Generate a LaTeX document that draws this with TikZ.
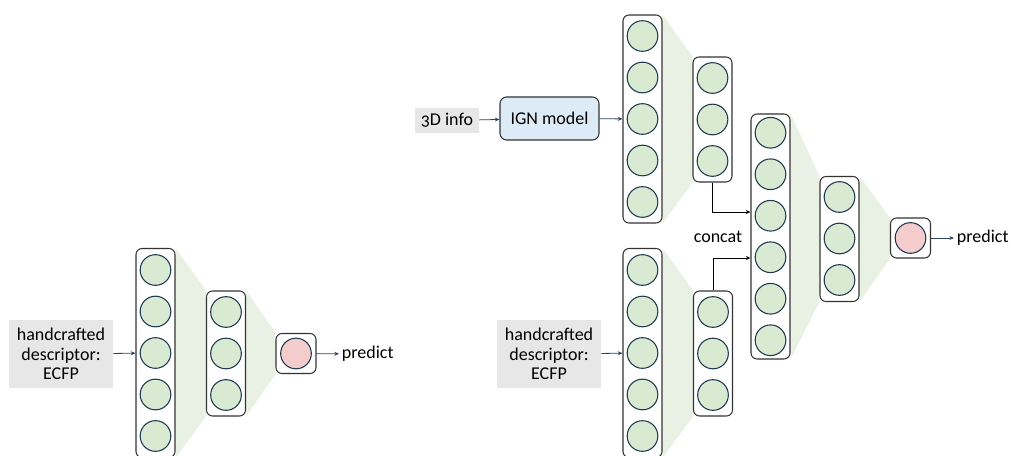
\documentclass[tikz,border=0pt]{standalone}
\usepackage{fontspec}
\setmainfont{Carlito}[Numbers=OldStyle]
\usetikzlibrary{arrows.meta,backgrounds,calc}

\definecolor{cellgreen}{RGB}{217,234,211}
\definecolor{cellpink}{RGB}{244,204,204}
\definecolor{cellline}{RGB}{31,56,80}
\definecolor{shadegreen}{RGB}{233,241,228}
\definecolor{infogray}{RGB}{231,231,231}
\definecolor{ignblue}{RGB}{221,235,247}
\definecolor{arrowblue}{RGB}{47,69,95}

\tikzset{
  neuron/.style={circle, draw=cellline, fill=cellgreen, line width=0.8pt, minimum size=23pt, inner sep=0pt},
  outneuron/.style={neuron, fill=cellpink},
  layer/.style={draw=black!80, rounded corners=4.5pt, line width=0.8pt, minimum width=29.25pt, inner sep=0pt},
  infobox/.style={fill=infogray, align=center, inner sep=0pt},
  feed/.style={draw=arrowblue, line width=0.6pt, -{Stealth[length=3.5pt,width=3pt]}},
  concatline/.style={draw=black, line width=0.6pt, -{Stealth[length=3.5pt,width=3pt]}},
  fan/.style={fill=shadegreen}
}

\begin{document}
\begin{tikzpicture}[x=0.75pt, y=-0.75pt, font=\fontsize{13.5pt}{14.6pt}\selectfont]
\useasboundingbox (0,0) rectangle (1011,456);
\clip (0,0) rectangle (1011,456);

% left: descriptor only
\node[infobox, minimum width=78pt, minimum height=51pt] (descL) at (61,354) {handcrafted\\descriptor:\\ECFP};
\node[layer, minimum height=156.75pt] (h1) at (155.5,353) {};
\foreach \k [count=\n] in {-2,...,2}
  \node[neuron] (h1-\n) at (155.5,{353+41.5*\k}) {};
\node[layer, minimum height=93.75pt] (h2) at (226,353.5) {};
\foreach \k [count=\n] in {-1,0,1}
  \node[neuron] (h2-\n) at (226,{353.5+41.5*\k}) {};
\node[layer, minimum width=30pt, minimum height=30pt] (h3) at (296,353.5) {};
\node[outneuron] (h3-1) at (296,353.5) {};
\node[anchor=west, inner sep=2pt] (predL) at (339,354) {predict};

\draw[feed] (descL) -- (h1);
\draw[feed] (h3) -- (predL);

% right: IGN + descriptor
\node[infobox, minimum width=48pt, minimum height=18.75pt] (info) at (447,120.5) {3D info};
\node[draw=black!80, fill=ignblue, rounded corners=5pt, line width=0.8pt, minimum width=74.25pt, minimum height=32.25pt] (ign) at (549.5,118.5) {IGN model};
\node[infobox, minimum width=78pt, minimum height=51pt] (descR) at (549,354) {handcrafted\\descriptor:\\ECFP};

\node[layer, minimum height=156pt] (a1) at (642.5,119) {};
\foreach \k [count=\n] in {-2,...,2}
  \node[neuron] (a1-\n) at (642.5,{119+41.5*\k}) {};
\node[layer, minimum height=93.75pt] (a2) at (712.5,119.5) {};
\foreach \k [count=\n] in {-1,0,1}
  \node[neuron] (a2-\n) at (712.5,{119.5+41.5*\k}) {};

\node[layer, minimum height=156.75pt] (b1) at (642.5,353) {};
\foreach \k [count=\n] in {-2,...,2}
  \node[neuron] (b1-\n) at (642.5,{353+41.5*\k}) {};
\node[layer, minimum height=93.75pt] (b2) at (713,353.5) {};
\foreach \k [count=\n] in {-1,0,1}
  \node[neuron] (b2-\n) at (713,{353.5+41.5*\k}) {};

\node[layer, minimum height=183.75pt] (c1) at (770.5,236.5) {};
\foreach \k [count=\n] in {-2.5,-1.5,...,2.5}
  \node[neuron] (c1-\n) at (770.5,{236.5+41.5*\k}) {};
\node[layer, minimum height=93.75pt] (c2) at (839.5,239) {};
\foreach \k [count=\n] in {-1,0,1}
  \node[neuron] (c2-\n) at (839.5,{238.5+41.5*\k}) {};
\node[layer, minimum width=30pt, minimum height=30pt] (c3) at (910.5,238) {};
\node[outneuron] (c3-1) at (910.5,238) {};
\node[anchor=west, inner sep=2pt] (predR) at (954,238) {predict};

\node (concat) at (718,237) {concat};

\draw[feed] (info) -- (ign);
\draw[feed] (ign) -- (a1);
\draw[feed] (descR) -- (b1);
\draw[feed] (c3) -- (predR);
\draw[concatline] (a2.south) |- ($(c1.west)+(0,-24.5)$);
\draw[concatline] (b2.north) |- ($(c1.west)+(0,21.5)$);

% fans between layers
\begin{scope}[on background layer]
\fill[fan] (h1.north east) -- (h2.north west) -- (h2.south west) -- (h1.south east) -- cycle;
\fill[fan] (h2.north east) -- (h3.north west) -- (h3.south west) -- (h2.south east) -- cycle;
\fill[fan] (a1.north east) -- (a2.north west) -- (a2.south west) -- (a1.south east) -- cycle;
\fill[fan] (b1.north east) -- (b2.north west) -- (b2.south west) -- (b1.south east) -- cycle;
\fill[fan] (c1.north east) -- (c2.north west) -- (c2.south west) -- (c1.south east) -- cycle;
\fill[fan] (c2.north east) -- (c3.north west) -- (c3.south west) -- (c2.south east) -- cycle;
\end{scope}
\end{tikzpicture}
\end{document}
